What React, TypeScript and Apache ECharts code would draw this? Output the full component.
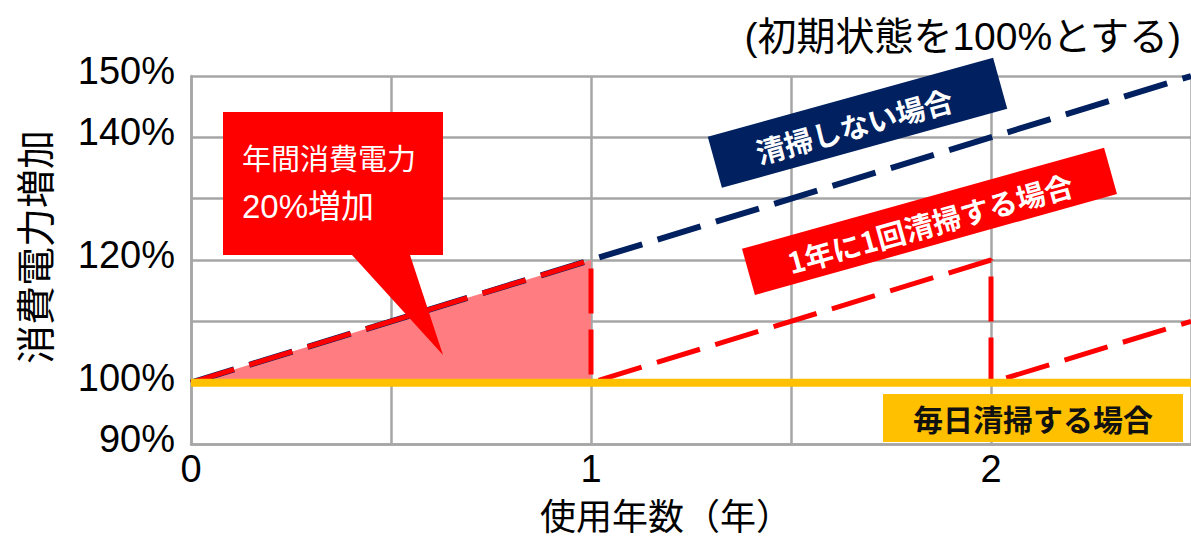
import React, { useEffect, useRef } from "react";
import * as echarts from "echarts";

// ---- data ----
const xTicks = [0, 1, 2];
const yTickLabels = [150, 140, 120, 100, 90];
const noCleaning: [number, number][] = [
  [0, 100],
  [2.5, 150],
];
const yearlyCleaning: [number, number][] = [
  [0, 100],
  [1, 120],
  [1, 100],
  [2, 120],
  [2, 100],
  [2.5, 110],
];
const dailyCleaning: [number, number][] = [
  [0, 100],
  [2.5, 100],
];
const firstYearIncrease: [number, number][] = [
  [0, 100],
  [1, 120],
];

const LATIN = '"Liberation Sans Narrow", "Liberation Sans", "Noto Sans CJK JP", sans-serif';
const CJK = '"Noto Sans CJK JP", sans-serif';
const deg = (d: number) => (d * Math.PI) / 180;

export default function App() {
  const ref = useRef<HTMLDivElement>(null);
  useEffect(() => {
    if (!ref.current) return;
    const chart = echarts.init(ref.current, null, { renderer: "svg" });
    const option: any = {
      animation: false,
      backgroundColor: "#ffffff",
      grid: { left: 191, top: 76, bottom: 94, right: -4, containLabel: false },
      xAxis: {
        type: "value",
        min: 0,
        max: 2.5,
        interval: 0.5,
        axisLine: { show: true, lineStyle: { color: "#a6a6a6", width: 2.5 } },
        axisTick: { show: false },
        splitLine: { show: true, lineStyle: { color: "#a6a6a6", width: 2.5 } },
        axisLabel: {
          color: "#000",
          fontSize: 38,
          fontFamily: LATIN,
          margin: 6,
          showMaxLabel: false,
          formatter: (v: number) => (xTicks.includes(v) ? String(v) : ""),
        },
      },
      yAxis: {
        type: "value",
        min: 90,
        max: 150,
        interval: 10,
        axisLine: { show: true, lineStyle: { color: "#a6a6a6", width: 2.5 } },
        axisTick: { show: false },
        splitLine: { show: true, lineStyle: { color: "#a6a6a6", width: 2.5 } },
        axisLabel: {
          color: "#000",
          fontSize: 38,
          fontFamily: LATIN,
          margin: 16,
          formatter: (v: number) => (yTickLabels.includes(v) ? "{p|" + v + "%}" : ""),
          rich: {
            p: {
              color: "#000",
              fontSize: 38,
              fontFamily: LATIN,
              padding: [0, 0, 10, 0],
            },
          },
        },
      },
      series: [
        {
          type: "line",
          data: firstYearIncrease,
          symbol: "none",
          lineStyle: { width: 0 },
          areaStyle: { color: "#ff7c80", opacity: 1, origin: 100 },
          z: 1,
        },
        {
          type: "line",
          data: noCleaning,
          symbol: "none",
          lineStyle: { color: "#002060", width: 6, type: [45, 16] },
          z: 2,
        },
        {
          type: "line",
          data: yearlyCleaning,
          symbol: "none",
          lineStyle: { color: "#ff0000", width: 5, type: [45, 16] },
          z: 3,
        },
        {
          type: "line",
          data: dailyCleaning,
          symbol: "none",
          lineStyle: { color: "#ffc000", width: 8 },
          z: 4,
        },
      ],
      graphic: [
        {
          type: "text",
          z: 100,
          style: {
            text: "(初期状態を100%とする)",
            x: 1181,
            y: 36,
            align: "right",
            textAlign: "right",
            verticalAlign: "middle",
            textVerticalAlign: "middle",
            fontSize: 39,
            fontFamily: LATIN,
            fill: "#000",
          },
        },
        {
          type: "text",
          z: 100,
          x: 33,
          y: 247,
          rotation: Math.PI / 2,
          style: {
            text: "消費電力増加",
            x: 0,
            y: 0,
            align: "center",
            textAlign: "center",
            verticalAlign: "middle",
            textVerticalAlign: "middle",
            fontSize: 39,
            fontFamily: CJK,
            fill: "#000",
          },
        },
        {
          type: "text",
          z: 100,
          style: {
            text: "使用年数（年）",
            x: 666,
            y: 514,
            align: "center",
            textAlign: "center",
            verticalAlign: "middle",
            textVerticalAlign: "middle",
            fontSize: 36,
            fontFamily: CJK,
            fill: "#000",
          },
        },
        {
          type: "polygon",
          z: 100,
          shape: {
            points: [
              [223, 112],
              [443, 112],
              [443, 255],
              [410, 255],
              [443, 355],
              [352, 255],
              [223, 255],
            ],
          },
          style: { fill: "#ff0000" },
        },
        {
          type: "text",
          z: 101,
          style: {
            text: "年間消費電力",
            x: 242,
            y: 157,
            align: "left",
            textAlign: "left",
            verticalAlign: "middle",
            textVerticalAlign: "middle",
            fontSize: 29,
            fontFamily: CJK,
            fill: "#ffffff",
          },
        },
        {
          type: "text",
          z: 101,
          style: {
            text: "20%増加",
            x: 242,
            y: 206,
            align: "left",
            textAlign: "left",
            verticalAlign: "middle",
            textVerticalAlign: "middle",
            fontSize: 33,
            fontFamily: LATIN,
            fill: "#ffffff",
          },
        },
        {
          type: "group",
          z: 100,
          x: 857.5,
          y: 122.8,
          rotation: deg(15.5),
          children: [
            {
              type: "rect",
              z: 100,
              shape: { x: -148, y: -26.5, width: 296, height: 53 },
              style: { fill: "#002060" },
            },
            {
              type: "text",
              z: 101,
              style: {
                text: "清掃しない場合",
                x: -4,
                y: 1,
                align: "center",
                textAlign: "center",
                verticalAlign: "middle",
                textVerticalAlign: "middle",
                fontSize: 29,
                fontWeight: "bold",
                fontFamily: CJK,
                fill: "#ffffff",
              },
            },
          ],
        },
        {
          type: "group",
          z: 100,
          x: 929.5,
          y: 221.4,
          rotation: deg(15.6),
          children: [
            {
              type: "rect",
              z: 100,
              shape: { x: -188, y: -24, width: 376, height: 48 },
              style: { fill: "#ff0000" },
            },
            {
              type: "text",
              z: 101,
              style: {
                text: "1年に1回清掃する場合",
                x: 0,
                y: 1,
                align: "center",
                textAlign: "center",
                verticalAlign: "middle",
                textVerticalAlign: "middle",
                fontSize: 29,
                fontWeight: "bold",
                fontFamily: CJK,
                fill: "#ffffff",
              },
            },
          ],
        },
        {
          type: "rect",
          z: 100,
          shape: { x: 883, y: 394, width: 300, height: 48 },
          style: { fill: "#ffc000" },
        },
        {
          type: "text",
          z: 101,
          style: {
            text: "毎日清掃する場合",
            x: 1033,
            y: 418,
            align: "center",
            textAlign: "center",
            verticalAlign: "middle",
            textVerticalAlign: "middle",
            fontSize: 30,
            fontWeight: "bold",
            fontFamily: CJK,
            fill: "#111111",
          },
        },
      ],
    };
    chart.setOption(option);
    return () => chart.dispose();
  }, []);
  return (
    <div
      ref={ref}
      style={{ position: "fixed", left: 0, top: 0, width: 1191, height: 538, background: "#fff" }}
    />
  );
}
